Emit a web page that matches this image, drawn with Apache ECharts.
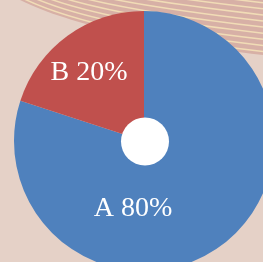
<!DOCTYPE html>
<html>
<head>
<meta charset="utf-8">
<script src="https://cdn.jsdelivr.net/npm/echarts@6/dist/echarts.min.js"></script>
<style>
    html, body { margin: 0; padding: 0; }
    #chart { width: 263px; height: 262px; }
</style>
</head>
<body>
<div id="chart"></div>
<script>
// data
const categories = ['A', 'B'];
const values = [80, 20];
const colors = ['#4f81bd', '#c0504d'];
// label spots (px) for each slice
const labelSpots = [[133, 209], [89, 73]];

const chartDom = document.getElementById('chart');
const myChart = echarts.init(chartDom);

// decorative striped band in top right corner
const quad = (t, a, b, c) => (1 - t) * (1 - t) * a + 2 * t * (1 - t) * b + t * t * c;
const bandPts = [];
for (let i = 0; i <= 30; i++) {
    const t = i / 30;
    bandPts.push([quad(t, 20, 90, 263), quad(t, 0, 35, 55)]);
}
bandPts.push([263, 0]);

const deco = [];
deco.push({
    type: 'polygon',
    z: 0,
    shape: { points: bandPts },
    style: { fill: '#d7b0a6' },
    silent: true
});
for (let k = 0; k < 10; k++) {
    const off = 3.5 + k * 6.1;
    deco.push({
        type: 'bezierCurve',
        z: 0,
        shape: {
            x1: 20 + off * 0.6, y1: -off * 0.6,
            cpx1: 90, cpy1: 35 - off,
            x2: 263, y2: 55 - off
        },
        style: { stroke: '#f1dcb6', lineWidth: 1.5, fill: null },
        silent: true
    });
}
deco.push({
    type: 'circle',
    z: 100,
    shape: { cx: 145, cy: 141.5, r: 24 },
    style: { fill: '#ffffff' },
    silent: true
});

const option = {
    backgroundColor: '#e5d1c7',
    animation: false,
    color: colors,
    graphic: deco,
    series: [
        {
            type: 'pie',
            center: [144, 141],
            radius: [0, 130],
            startAngle: 90,
            clockwise: true,
            z: 10,
            data: categories.map((c, i) => ({ name: c, value: values[i] })),
            label: {
                show: true,
                position: 'inside',
                formatter: '{b} {d}%',
                color: '#ffffff',
                fontFamily: 'Liberation Serif, Times New Roman, serif',
                fontSize: 28
            },
            labelLine: { show: false },
            labelLayout: function (params) {
                const p = labelSpots[params.dataIndex];
                return { x: p[0], y: p[1], align: 'center', verticalAlign: 'middle' };
            },
            emphasis: { disabled: true }
        }
    ]
};
myChart.setOption(option);
</script>
</body>
</html>
